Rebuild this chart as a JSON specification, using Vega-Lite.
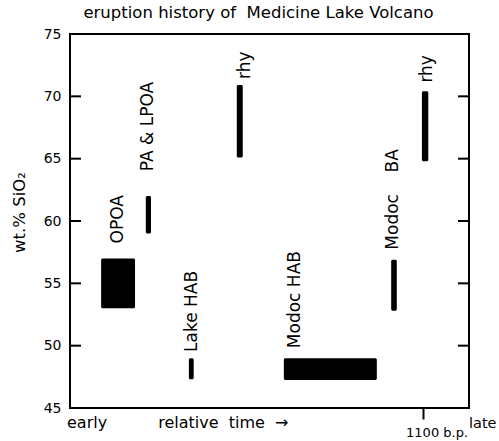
{
  "$schema": "https://vega.github.io/schema/vega-lite/v6.json",
  "width": 399,
  "height": 374,
  "autosize": {"type": "none"},
  "padding": {"left": 70, "top": 34, "right": 30, "bottom": 33},
  "background": "white",
  "config": {
    "font": "DejaVu Sans",
    "view": {"stroke": "black", "strokeWidth": 2},
    "axis": {"grid": false, "labelColor": "black", "titleColor": "black", "labelFont": "DejaVu Sans", "titleFont": "DejaVu Sans"}
  },
  "title": {
    "text": "eruption history of\u00a0 Medicine Lake Volcano",
    "fontSize": 16.5,
    "fontWeight": "normal",
    "font": "DejaVu Sans",
    "color": "black",
    "anchor": "middle",
    "dx": -11,
    "offset": 6
  },
  "resolve": {"axis": {"x": "independent", "y": "independent"}},
  "datasets": {
    "bars": [
      {"group": "OPOA", "t0": 7.8, "t1": 16.3, "lo": 53, "hi": 57, "lx": 12.0, "ly": 58.2},
      {"group": "PA & LPOA", "t0": 19.0, "t1": 20.3, "lo": 59, "hi": 62, "lx": 19.5, "ly": 64.0},
      {"group": "Lake HAB", "t0": 29.8, "t1": 31.0, "lo": 47.3, "hi": 49, "lx": 30.6, "ly": 49.5},
      {"group": "rhy", "t0": 41.8, "t1": 43.3, "lo": 65.1, "hi": 70.9, "lx": 43.8, "ly": 71.4},
      {"group": "Modoc HAB", "t0": 53.6, "t1": 76.9, "lo": 47.25, "hi": 49, "lx": 56.4, "ly": 49.8},
      {"group": "Modoc\u00a0\u00a0\u00a0 BA", "t0": 80.5, "t1": 81.9, "lo": 52.8, "hi": 56.9, "lx": 81.0, "ly": 57.7},
      {"group": "rhy", "t0": 88.2, "t1": 89.8, "lo": 64.8, "hi": 70.4, "lx": 89.4, "ly": 71.1}
    ],
    "ticks": [
      {"v": 50, "a": 0, "b": 2.75}, {"v": 55, "a": 0, "b": 2.75}, {"v": 60, "a": 0, "b": 2.75},
      {"v": 65, "a": 0, "b": 2.75}, {"v": 70, "a": 0, "b": 2.75},
      {"v": 50, "a": 97.25, "b": 100}, {"v": 55, "a": 97.25, "b": 100}, {"v": 60, "a": 97.25, "b": 100},
      {"v": 65, "a": 97.25, "b": 100}, {"v": 70, "a": 97.25, "b": 100}
    ],
    "notes": [
      {"label": "early", "nx": -0.75, "ny": 43.4},
      {"label": "relative\u00a0 time\u00a0 →", "nx": 22.1, "ny": 43.4}
    ],
    "end": [
      {"label": "late", "nx": 100.0, "ny": 43.4}
    ],
    "marker": [
      {"label": "1100 b.p.", "nx": 92.0, "ny": 42.67}
    ]
  },
  "layer": [
    {
      "data": {"name": "bars"},
      "mark": {"type": "rect", "color": "black", "cornerRadius": 1.5},
      "encoding": {
        "x": {
          "field": "t0", "type": "quantitative",
          "scale": {"domain": [0, 100], "nice": false, "zero": false},
          "axis": {
            "values": [88.5], "labels": false, "title": null,
            "domain": false, "tickSize": 11, "tickWidth": 2, "tickColor": "black"
          }
        },
        "x2": {"field": "t1"},
        "y": {
          "field": "lo", "type": "quantitative",
          "scale": {"domain": [45, 75], "nice": false, "zero": false},
          "axis": {
            "values": [45, 50, 55, 60, 65, 70, 75], "ticks": false, "domain": false,
            "labelFontSize": 14, "labelPadding": 9,
            "title": "wt.% SiO₂", "titleFontSize": 16.5, "titleFontWeight": "normal",
            "titleX": -51, "titleY": 178, "titleBaseline": "middle"
          }
        },
        "y2": {"field": "hi"}
      }
    },
    {
      "data": {"name": "bars"},
      "mark": {"type": "text", "angle": 270, "align": "left", "baseline": "middle", "fontSize": 17, "color": "black"},
      "encoding": {
        "x": {"field": "lx", "type": "quantitative", "axis": null},
        "y": {"field": "ly", "type": "quantitative", "axis": null},
        "text": {"field": "group"}
      }
    },
    {
      "data": {"name": "ticks"},
      "mark": {"type": "rule", "color": "black", "strokeWidth": 2},
      "encoding": {
        "x": {"field": "a", "type": "quantitative", "axis": null},
        "x2": {"field": "b"},
        "y": {"field": "v", "type": "quantitative", "axis": null}
      }
    },
    {
      "data": {"name": "notes"},
      "mark": {"type": "text", "align": "left", "baseline": "alphabetic", "fontSize": 16, "color": "black"},
      "encoding": {
        "x": {"field": "nx", "type": "quantitative", "axis": null},
        "y": {"field": "ny", "type": "quantitative", "axis": null},
        "text": {"field": "label"}
      }
    },
    {
      "data": {"name": "end"},
      "mark": {"type": "text", "align": "left", "baseline": "alphabetic", "fontSize": 14.5, "color": "black"},
      "encoding": {
        "x": {"field": "nx", "type": "quantitative", "axis": null},
        "y": {"field": "ny", "type": "quantitative", "axis": null},
        "text": {"field": "label"}
      }
    },
    {
      "data": {"name": "marker"},
      "mark": {"type": "text", "align": "center", "baseline": "alphabetic", "fontSize": 13, "color": "black"},
      "encoding": {
        "x": {"field": "nx", "type": "quantitative", "axis": null},
        "y": {"field": "ny", "type": "quantitative", "axis": null},
        "text": {"field": "label"}
      }
    }
  ]
}
